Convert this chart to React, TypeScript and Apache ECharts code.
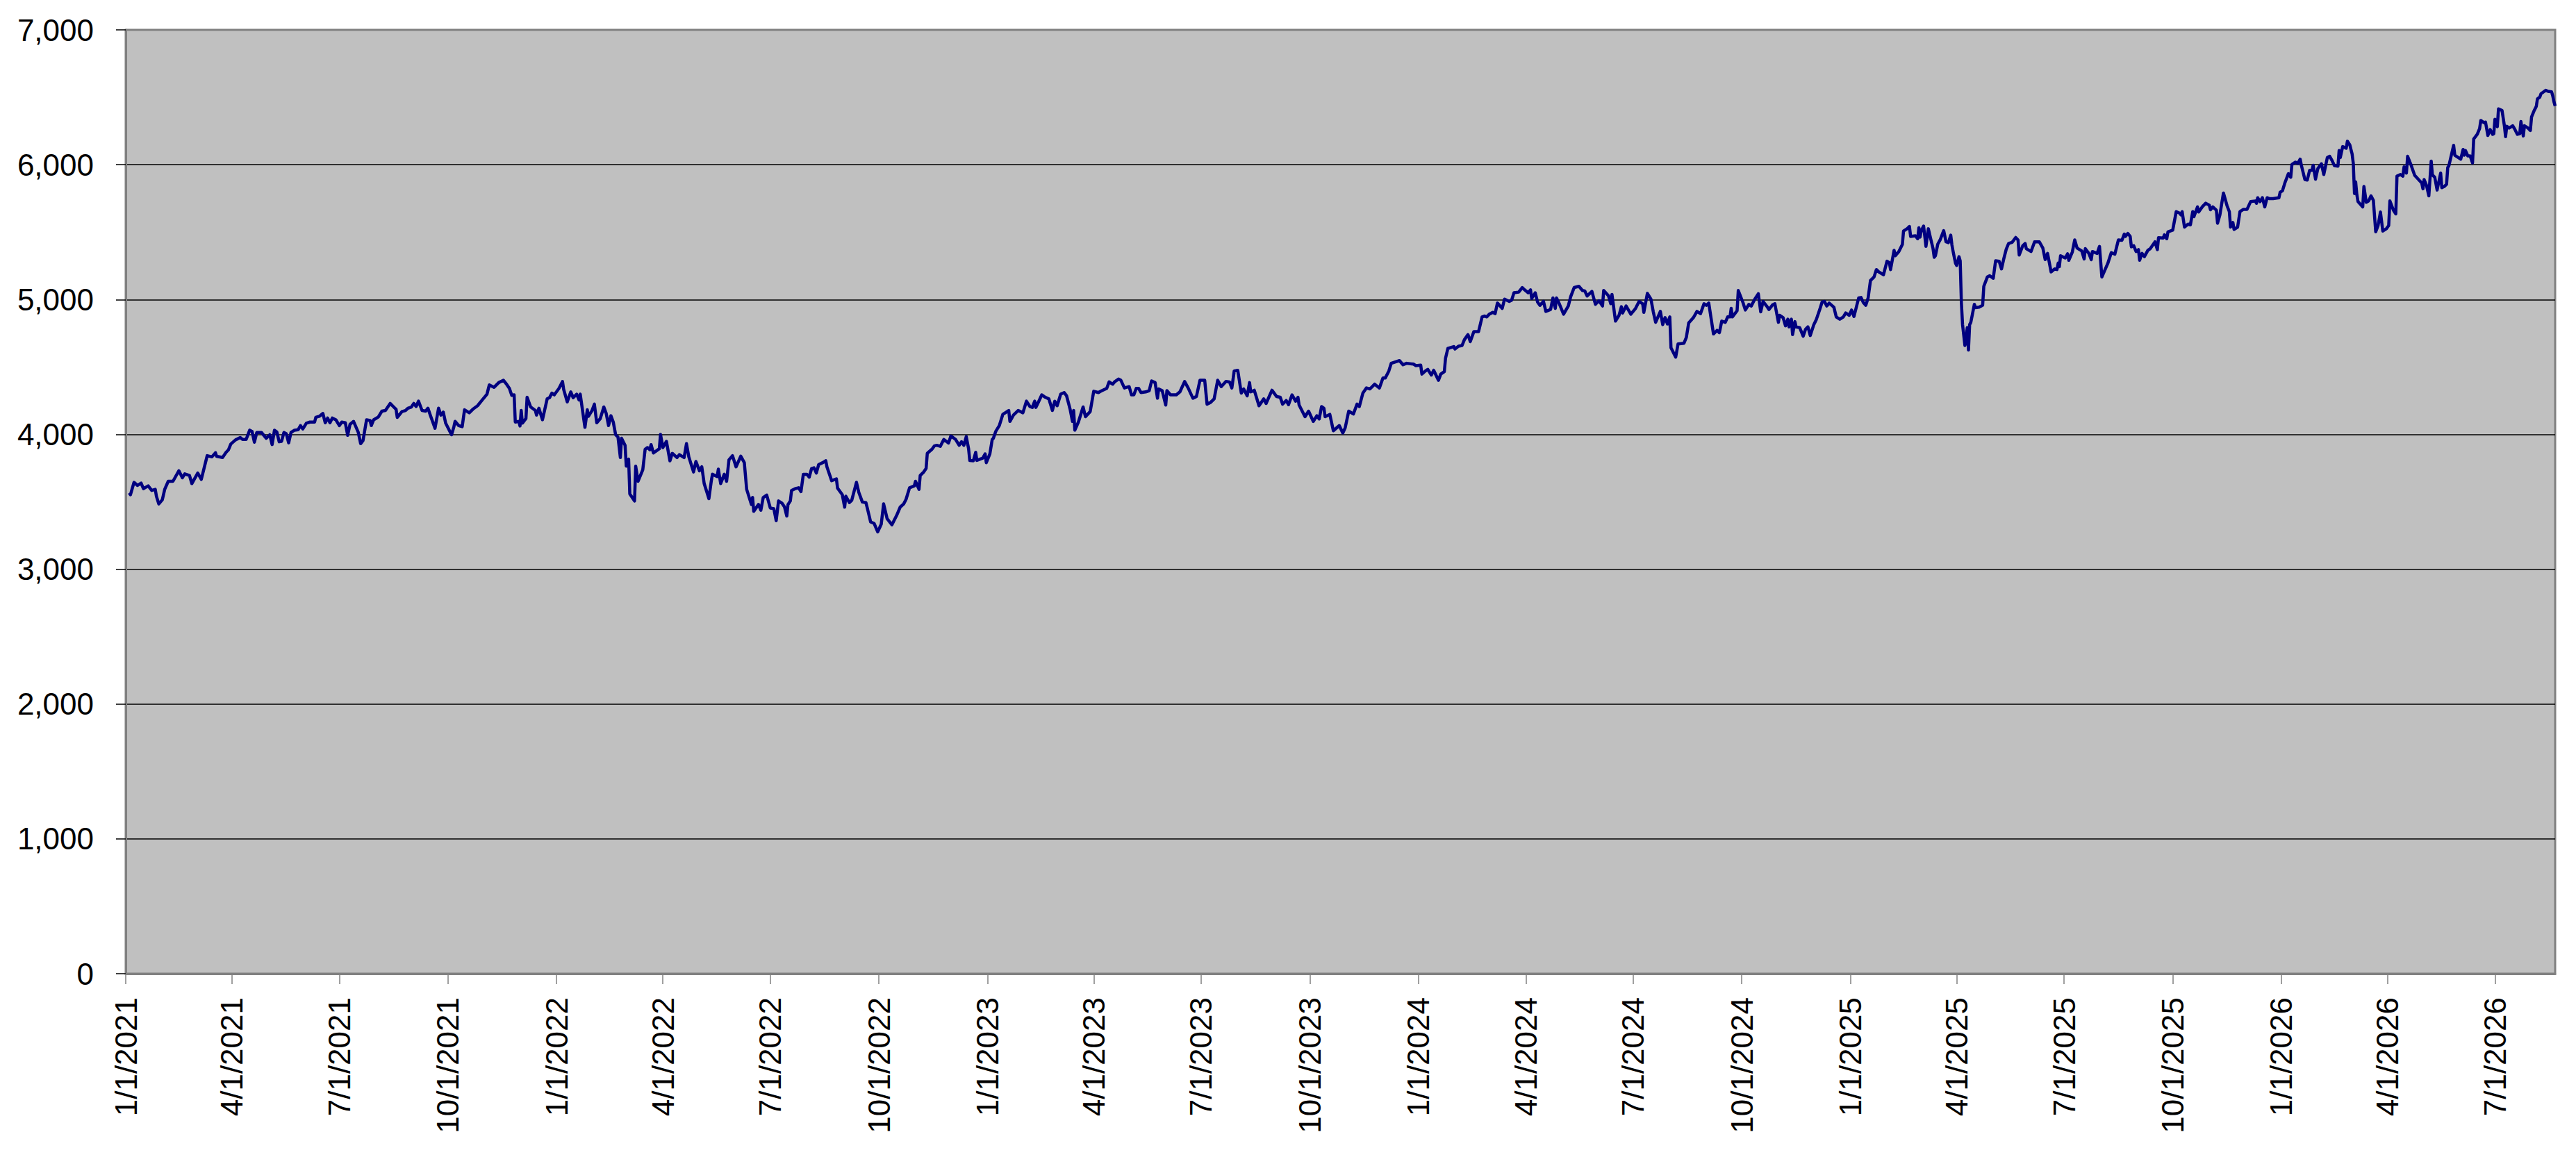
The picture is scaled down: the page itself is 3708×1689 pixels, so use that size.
import React, { useEffect, useRef } from "react";
import * as echarts from "echarts";

// Day offsets from 1/1/2021 and index level
const startDate = "2021-01-01";
const axisEndDate = "2026-08-21";

const observations: [number, number][] = [
  [3,3566],[4,3552],[7,3644],[10,3621],[13,3639],[15,3597],[19,3618],[22,3584],[25,3592],[26,3541],[28,3484],[31,3515],[33,3592],[36,3652],[40,3652],[45,3730],[48,3678],[50,3707],[54,3695],[56,3635],[61,3713],[64,3666],[69,3842],[73,3833],[76,3864],[77,3837],[82,3828],[85,3867],[87,3885],[89,3928],[93,3959],[97,3976],[99,3962],[102,3962],[105,4031],[107,4022],[109,3942],[111,4014],[115,4014],[119,3971],[122,3997],[124,3924],[126,4031],[128,4017],[130,3945],[132,3948],[134,4014],[136,4005],[138,3937],[140,4014],[143,4031],[146,4034],[148,4065],[150,4040],[153,4083],[156,4091],[160,4091],[161,4126],[164,4134],[167,4155],[169,4086],[171,4121],[173,4086],[175,4121],[178,4108],[181,4065],[183,4091],[186,4086],[188,3993],[190,4074],[193,4096],[197,4014],[199,3931],[201,3954],[204,4108],[207,4103],[208,4065],[210,4108],[214,4129],[217,4172],[220,4177],[224,4229],[227,4203],[229,4186],[230,4126],
  [234,4169],[237,4177],[239,4194],[242,4203],[244,4229],[246,4207],[248,4246],[251,4177],[254,4172],[256,4194],[258,4143],[262,4045],[265,4194],[267,4143],[269,4165],[271,4083],[276,3997],[278,4057],[279,4096],[282,4065],[285,4057],[287,4182],[291,4160],[294,4186],[298,4212],[302,4255],[306,4298],[308,4367],[312,4349],[316,4384],[320,4401],[323,4367],[325,4341],[327,4289],[329,4293],[330,4091],[333,4096],[334,4062],[335,4177],[336,4083],[339,4117],[340,4275],[343,4203],[347,4177],[348,4143],[350,4194],[353,4108],[357,4263],[359,4272],[361,4306],[363,4293],[367,4341],[370,4392],[371,4332],[374,4241],[377,4315],[379,4272],[382,4298],[384,4255],[385,4298],[389,4052],[391,4182],[392,4134],[395,4177],[397,4224],[399,4086],[402,4117],[405,4203],[407,4155],[409,4065],[411,4138],[413,4091],[415,3997],[417,3979],[419,3828],[420,3971],[423,3919],[424,3764],[426,3816],[427,3558],[431,3506],[432,3764],[434,3652],[438,3738],[440,3890],[442,3902],[444,3885],[445,3924],[447,3862],[452,3893],[453,4000],[455,3902],[458,3948],[461,3804],
  [463,3859],[467,3828],[469,3850],[473,3828],[475,3931],[477,3833],[481,3721],[483,3799],[486,3730],[488,3759],[490,3635],[494,3523],[496,3652],[497,3704],[501,3687],[502,3742],[504,3635],[507,3704],[509,3652],[511,3811],[514,3842],[517,3759],[521,3838],[524,3790],[526,3592],[530,3480],[531,3532],[532,3429],[536,3480],[538,3437],[540,3532],[543,3549],[546,3454],[549,3449],[551,3360],[553,3506],[556,3489],[558,3463],[560,3394],[561,3480],[563,3506],[564,3584],[567,3597],[570,3604],[572,3575],[574,3704],[577,3704],[579,3683],[581,3747],[583,3752],[585,3713],[587,3776],[591,3793],[593,3804],[594,3759],[598,3656],[602,3670],[603,3601],[607,3553],[609,3460],[610,3541],[613,3494],[615,3511],[619,3644],[621,3570],[624,3498],[627,3494],[628,3460],[631,3351],[634,3339],[637,3277],[640,3334],[642,3484],[645,3374],[649,3329],[653,3398],[656,3460],[659,3484],[661,3518],[664,3604],[668,3618],[669,3652],[672,3592],[673,3695],[676,3721],[678,3747],[679,3859],[683,3890],[685,3914],[687,3919],
  [690,3911],[693,3962],[697,3936],[699,3988],[703,3962],[706,3919],[708,3945],[710,3919],[712,3983],[714,3893],[715,3807],[718,3804],[720,3867],[721,3807],[726,3824],[728,3855],[729,3790],[732,3855],[734,3962],[735,3971],[737,4022],[740,4065],[743,4148],[748,4177],[749,4096],[752,4143],[756,4177],[760,4160],[763,4246],[766,4206],[768,4200],[770,4246],[771,4200],[773,4237],[776,4293],[779,4275],[782,4263],[785,4177],[787,4246],[789,4212],[792,4298],[795,4310],[797,4286],[800,4186],[802,4096],[803,4177],[804,4031],[807,4091],[811,4203],[813,4131],[817,4169],[820,4320],[824,4310],[826,4320],[831,4341],[833,4389],[836,4372],[838,4392],[841,4410],[843,4401],[846,4344],[850,4354],[852,4293],[854,4293],[856,4341],[858,4341],[860,4310],[864,4315],[867,4324],[869,4396],[872,4384],[874,4268],[875,4337],[878,4324],[881,4217],[882,4324],[885,4293],[890,4293],[893,4315],[897,4392],[900,4344],[904,4268],[907,4281],[910,4401],[914,4401],[916,4224],[919,4237],
  [922,4263],[925,4401],[928,4354],[932,4392],[935,4389],[937,4344],[939,4470],[942,4475],[945,4306],[947,4337],[950,4286],[952,4384],[953,4315],[956,4327],[960,4212],[964,4263],[966,4229],[971,4327],[975,4280],[978,4275],[980,4224],[983,4251],[985,4220],[988,4293],[991,4246],[993,4275],[994,4217],[999,4131],[1002,4172],[1006,4096],[1009,4138],[1011,4114],[1013,4206],[1015,4194],[1016,4131],[1020,4148],[1023,4027],[1028,4065],[1031,4010],[1033,4048],[1036,4172],[1040,4151],[1043,4224],[1045,4206],[1048,4306],[1051,4344],[1054,4337],[1058,4372],[1062,4344],[1065,4418],[1067,4418],[1070,4470],[1072,4527],[1076,4539],[1079,4547],[1082,4516],[1085,4527],[1091,4521],[1093,4509],[1097,4513],[1098,4447],[1101,4470],[1103,4482],[1106,4440],[1108,4475],[1112,4401],[1114,4447],[1117,4465],[1118,4564],[1120,4637],[1125,4651],[1126,4633],[1129,4654],[1132,4659],[1134,4702],[1137,4740],[1139,4688],[1142,4762],[1146,4762],[1149,4871],
  [1151,4878],[1153,4871],[1155,4891],[1158,4905],[1160,4895],[1162,4974],[1166,4934],[1168,5003],[1172,4986],[1174,4995],[1176,5050],[1180,5055],[1183,5089],[1185,5072],[1188,5050],[1190,5072],[1191,5008],[1194,5050],[1196,4981],[1198,4957],[1201,4986],[1203,4912],[1207,4926],[1209,5012],[1211,4934],[1212,5012],[1214,4977],[1218,4891],[1222,4952],[1224,5020],[1227,5089],[1231,5098],[1234,5067],[1236,5063],[1238,5026],[1242,5060],[1245,4964],[1248,4991],[1251,4952],[1252,5067],[1256,5029],[1258,4969],[1259,5038],[1262,4840],[1265,4883],[1267,4947],[1268,4900],[1271,4952],[1275,4891],[1279,4934],[1282,4986],[1285,4969],[1286,4905],[1289,5046],[1292,5003],[1294,4909],[1296,4831],[1300,4912],[1302,4814],[1304,4866],[1306,4819],[1308,4871],[1309,4642],[1313,4573],[1315,4671],[1320,4676],[1322,4719],[1324,4826],[1328,4866],[1331,4912],[1334,4895],[1337,4969],[1339,4957],[1341,4974],[1345,4745],[1348,4771],[1350,4754],[1352,4840],[1355,4831],[1357,4871],[1359,4871],[1360,4934],[1361,4871],[1365,4917],[1366,5067],[1370,4977],[1372,4922],[1375,4964],[1377,4952],[1380,5003],
  [1383,5043],[1385,4909],[1387,4986],[1390,4952],[1392,4926],[1395,4960],[1397,4969],[1400,4831],[1401,4883],[1404,4866],[1406,4805],[1408,4854],[1409,4797],[1411,4854],[1412,4740],[1414,4836],[1415,4797],[1418,4792],[1421,4728],[1423,4780],[1425,4797],[1427,4733],[1430,4814],[1432,4849],[1435,4926],[1437,4981],[1439,4986],[1441,4952],[1443,4974],[1447,4943],[1449,4871],[1452,4854],[1455,4871],[1457,4900],[1460,4883],[1462,4922],[1464,4874],[1468,5012],[1470,5015],[1472,4977],[1474,4957],[1476,5012],[1478,5141],[1481,5167],[1483,5222],[1485,5205],[1489,5184],[1492,5284],[1494,5274],[1495,5222],[1498,5365],[1499,5325],[1502,5356],[1505,5408],[1506,5508],[1509,5525],[1511,5542],[1512,5468],[1516,5473],[1518,5451],[1519,5532],[1520,5463],[1521,5511],[1523,5545],[1525,5394],[1527,5525],[1529,5451],[1531,5377],[1532,5313],[1533,5325],[1535,5411],[1537,5442],[1540,5511],[1542,5428],[1544,5422],[1546,5477],[1547,5404],[1548,5356],[1550,5270],[1551,5253],[1553,5318],[1554,5287],[1555,4977],[1556,4814],[1558,4659],[1560,4792],[1561,4625],[1562,4814],[1563,4831],[1566,4964],[1567,4940],[1570,4943],[1573,4957],[1574,5098],[1577,5167],[1579,5176],[1582,5158],[1584,5287],[1587,5284],[1589,5227],[1591,5305],[1593,5373],[1595,5416],[1598,5425],[1601,5460],[1603,5442],[1604,5330],[1607,5399],[1609,5416],
  [1610,5377],[1614,5356],[1617,5428],[1621,5428],[1624,5382],[1626,5296],[1628,5342],[1631,5205],[1634,5227],[1636,5222],[1637,5270],[1638,5244],[1639,5325],[1643,5308],[1645,5339],[1646,5291],[1649,5353],[1651,5442],[1653,5382],[1657,5360],[1659,5301],[1660,5377],[1663,5342],[1665,5296],[1666,5356],[1670,5342],[1672,5394],[1674,5167],[1677,5227],[1679,5267],[1682,5348],[1685,5336],[1688,5442],[1691,5439],[1693,5485],[1694,5468],[1696,5490],[1698,5468],[1699,5391],[1701,5399],[1703,5356],[1705,5370],[1706,5291],[1708,5342],[1710,5318],[1713,5365],[1715,5377],[1719,5428],[1721,5370],[1722,5459],[1726,5456],[1727,5480],[1729,5451],[1730,5502],[1734,5514],[1737,5652],[1740,5640],[1741,5628],[1742,5652],[1744,5537],[1747,5559],[1749,5554],[1751,5652],[1752,5614],[1755,5687],[1756,5649],[1759,5687],[1762,5714],[1765,5700],[1766,5666],[1768,5687],[1771,5663],[1772,5566],[1774,5628],[1777,5790],[1780,5697],[1782,5652],[1783,5537],[1785,5571],[1786,5520],[1789,5537],[1791,5652],[1794,5669],[1797,5669],[1800,5726],[1804,5731],[1805,5714],[1806,5755],[1808,5726],[1810,5755],[1812,5687],[1814,5755],[1816,5748],[1819,5748],[1824,5755],[1825,5795],[1827,5807],[1829,5864],[1832,5933],[1834,5907],[1835,6001],
  [1838,6019],[1840,6010],[1842,6041],[1843,5996],[1846,5890],[1848,5886],[1850,5958],[1852,5958],[1853,5996],[1855,5893],[1857,5972],[1860,6007],[1862,5927],[1865,6053],[1867,6062],[1869,6031],[1871,5993],[1874,5989],[1875,6105],[1876,6053],[1878,6134],[1881,6122],[1882,6174],[1884,6148],[1886,6079],[1887,6010],[1888,5786],[1889,5872],[1890,5778],[1891,5726],[1895,5687],[1896,5838],[1898,5721],[1900,5731],[1902,5769],[1904,5735],[1906,5502],[1908,5549],[1910,5649],[1912,5508],[1915,5525],[1917,5549],[1918,5731],[1921,5662],[1923,5635],[1924,5915],[1927,5927],[1929,5915],[1930,5984],[1932,5938],[1933,6062],[1936,5996],[1939,5921],[1942,5893],[1945,5864],[1946,5821],[1947,5890],[1949,5847],[1951,5769],[1953,6027],[1954,5924],[1956,5907],[1958,5812],[1961,5938],[1962,5829],[1964,5838],[1966,5855],[1967,5979],[1968,5993],[1972,6144],[1973,6070],[1976,6053],[1978,6041],[1980,6113],[1981,6070],[1982,6105],[1984,6065],[1986,6065],[1988,6013],[1989,6191],[1992,6225],[1994,6268],[1995,6328],[1998,6311],[1999,6316],[2001,6217],[2003,6260],[2005,6225],[2006,6230],[2007,6337],[2009,6282],[2010,6414],[2013,6402],[2015,6289],[2016,6208],[2017,6285],[2019,6272],[2022,6289],[2024,6260],[2026,6225],[2028,6230],[2029,6320],[2031,6213],[2032,6289],[2035,6272],[2037,6254],[2038,6354],[2040,6397],[2042,6432],[2043,6488],[2045,6501],[2046,6526],[2050,6552],[2052,6544],[2055,6540],[2056,6509],[2057,6466],[2058,6435],
];

const quarterTickLabels = [
  "1/1/2021","4/1/2021","7/1/2021","10/1/2021",
  "1/1/2022","4/1/2022","7/1/2022","10/1/2022",
  "1/1/2023","4/1/2023","7/1/2023","10/1/2023",
  "1/1/2024","4/1/2024","7/1/2024","10/1/2024",
  "1/1/2025","4/1/2025","7/1/2025","10/1/2025",
  "1/1/2026","4/1/2026","7/1/2026",
];

const yMin = 0;
const yMax = 7000;
const yStep = 1000;

const DAY = 86400000;

function parseISO(s: string): number {
  const [y, m, d] = s.split("-").map(Number);
  return Date.UTC(y, m - 1, d);
}
function parseMDY(s: string): number {
  const [m, d, y] = s.split("/").map(Number);
  return Date.UTC(y, m - 1, d);
}
function fmtMDY(v: number): string {
  const dt = new Date(v);
  return `${dt.getUTCMonth() + 1}/${dt.getUTCDate()}/${dt.getUTCFullYear()}`;
}

export default function App() {
  const ref = useRef<HTMLDivElement>(null);

  useEffect(() => {
    document.body.style.margin = "0";
    if (!ref.current) return;
    const chart = echarts.init(ref.current, undefined, { renderer: "svg" });
    const t0 = parseISO(startDate);
    const seriesData = observations.map(([d, v]) => [t0 + d * DAY, v]);
    const tickValues = quarterTickLabels.map(parseMDY);
    const font = "'Liberation Sans', Arial, sans-serif";

    chart.setOption({
      animation: false,
      backgroundColor: "#ffffff",
      grid: {
        left: 181,
        right: 30,
        top: 43,
        bottom: 287,
        show: true,
        backgroundColor: "#C0C0C0",
        borderColor: "#808080",
        borderWidth: 3,
        containLabel: false,
      },
      xAxis: {
        type: "value",
        min: t0,
        max: parseISO(axisEndDate),
        axisLine: { show: true, lineStyle: { color: "#808080", width: 3 } },
        axisTick: {
          show: true,
          length: 15,
          inside: false,
          customValues: tickValues,
          lineStyle: { color: "#808080", width: 1.5 },
        },
        axisLabel: {
          show: true,
          customValues: tickValues,
          rotate: 90,
          margin: 34,
          color: "#000",
          fontSize: 44,
          fontFamily: font,
          formatter: (v: number) => fmtMDY(v),
        },
        splitLine: { show: false },
        minorTick: { show: false },
      },
      yAxis: {
        type: "value",
        min: yMin,
        max: yMax,
        interval: yStep,
        axisLine: { show: true, lineStyle: { color: "#808080", width: 3 } },
        axisTick: { show: true, length: 14, lineStyle: { color: "#000", width: 1.5 } },
        axisLabel: {
          margin: 46,
          color: "#000",
          fontSize: 44,
          fontFamily: font,
          formatter: (v: number) => v.toLocaleString("en-US"),
        },
        splitLine: {
          show: true,
          showMinLine: false,
          showMaxLine: false,
          lineStyle: { color: "#000", width: 1.5 },
        },
      },
      series: [
        {
          type: "line",
          data: seriesData,
          showSymbol: false,
          symbol: "none",
          smooth: false,
          lineStyle: { color: "#000080", width: 4.5, join: "round" },
          itemStyle: { color: "#000080" },
        },
      ],
    });

    return () => chart.dispose();
  }, []);

  return (
    <div
      ref={ref}
      style={{ position: "absolute", left: 0, top: 0, width: 3708, height: 1689 }}
    />
  );
}
